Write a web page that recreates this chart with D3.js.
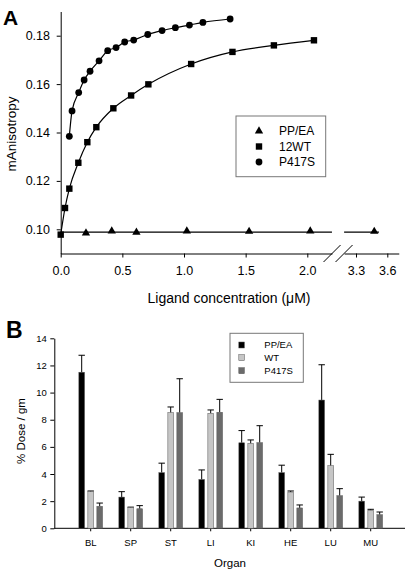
<!DOCTYPE html>
<html><head><meta charset="utf-8">
<script src="https://cdn.jsdelivr.net/npm/d3@7"></script>
<style>body{margin:0;background:#fff} svg{display:block;font-family:"Liberation Sans",Arial,sans-serif}</style>
</head><body><svg width="407" height="571"></svg>
<script>
// ---------- Panel A data ----------
const ppeaX = [0.205, 0.414, 0.614, 1.023, 1.528, 2.024, 3.475];
const ppeaY = [0.0982, 0.0991, 0.0985, 0.0991, 0.0989, 0.0991, 0.0989];
const ppeaLineEnds = [[0, 2.2], [3.186, 3.52]];
const wtX = [0, 0.035, 0.07, 0.143, 0.216, 0.289, 0.427, 0.571, 0.711, 1.058, 1.393, 1.729, 2.054];
const wtY = [0.0978, 0.1088, 0.1168, 0.1275, 0.1360, 0.1422, 0.1500, 0.1553, 0.1599, 0.1683, 0.1733, 0.1760, 0.1781];
const p417X = [0.07, 0.092, 0.146, 0.19, 0.238, 0.311, 0.381, 0.449, 0.519, 0.592, 0.706, 0.822, 0.930, 1.044, 1.153, 1.374];
const p417Y = [0.1384, 0.1489, 0.1565, 0.1617, 0.1653, 0.1696, 0.1738, 0.1751, 0.1774, 0.1782, 0.1805, 0.1821, 0.1833, 0.1844, 0.1855, 0.1869];
const xTicksA1 = [0, 0.5, 1.0, 1.5, 2.0];
const xTicksA2 = [3.3, 3.6];
const yTicksA = [0.10, 0.12, 0.14, 0.16, 0.18];
const legendA = ["PP/EA", "12WT", "P417S"];

// ---------- Panel B data ----------
const organs = ["BL", "SP", "ST", "LI", "KI", "HE", "LU", "MU"];
const groups = ["PP/EA", "WT", "P417S"];
const ppeaDose = [11.5, 2.3, 4.1, 3.6, 6.3, 4.1, 9.45, 2.0];
const ppeaSD   = [1.25, 0.4, 0.7, 0.7, 0.9, 0.55, 2.6, 0.3];
const wtDose   = [2.7, 1.52, 8.52, 8.47, 6.25, 2.67, 4.61, 1.33];
const wtSD     = [0.05, 0.04, 0.42, 0.25, 0.26, 0.08, 0.84, 0.07];
const p417Dose = [1.62, 1.44, 8.52, 8.55, 6.31, 1.5, 2.4, 1.0];
const p417SD   = [0.24, 0.23, 2.5, 0.95, 1.25, 0.22, 0.52, 0.2];
const yTicksB = [0, 2, 4, 6, 8, 10, 12, 14];
const barColors = ["#000000", "#c6c6c6", "#6b6b6b"];

const svg = d3.select("svg");

// ================= Panel A =================
const xA1 = d3.scaleLinear().domain([0, 2.2]).range([60.7, 60.7 + 2.2 * 123.3]);
const xA2base = d3.scaleLinear().domain([3.3, 3.6]).range([356, 387.3]);
const xA2 = xA2base.copy().domain([3.186, 3.71]).range([xA2base(3.186), xA2base(3.71)]);
const xA = v => v <= 2.5 ? xA1(v) : xA2(v);
const yA = d3.scaleLinear().domain([0.09, 0.19]).range([253.5, 11.5]);
const axisYA = yA.range()[0];

const gA = svg.append("g");
const yAxA = gA.append("g").attr("transform", `translate(${xA1.range()[0]},0)`)
  .call(d3.axisLeft(yA).tickValues(yTicksA).tickFormat(d3.format(".2f")).tickSize(4).tickSizeOuter(0).tickPadding(6.7));
const xAxA1 = gA.append("g").attr("transform", `translate(0,${axisYA})`)
  .call(d3.axisBottom(xA1).tickValues(xTicksA1).tickFormat(d3.format(".1f")).tickSize(4).tickSizeOuter(0).tickPadding(8.6));
const xAxA2 = gA.append("g").attr("transform", `translate(0,${axisYA})`)
  .call(d3.axisBottom(xA2).tickValues(xTicksA2).tickFormat(d3.format(".1f")).tickSize(4).tickSizeOuter(0).tickPadding(8.6));
[yAxA, xAxA1, xAxA2].forEach(a => {
  a.selectAll("text").attr("font-size", 12.5).attr("fill", "#000").attr("font-family", "Liberation Sans, Arial, sans-serif");
  a.selectAll("line,path").attr("stroke", "#000");
});
// break marks
const brkC = (xA1.range()[1] + xA2.range()[0]) / 2;
[-6, 6].forEach(o => {
  gA.append("line").attr("x1", brkC + o - 8.5).attr("y1", axisYA + 8.5)
    .attr("x2", brkC + o + 8.5).attr("y2", axisYA - 8.5).attr("stroke", "#000").attr("stroke-width", 1);
});

// PP/EA flat line (mean)
const ppeaMean = d3.mean(ppeaY);
ppeaLineEnds.forEach(([a, b]) => {
  gA.append("line").attr("x1", xA(a)).attr("x2", xA(b)).attr("y1", yA(ppeaMean)).attr("y2", yA(ppeaMean))
    .attr("stroke", "#000").attr("stroke-width", 1.2);
});
const lineA = d3.line().x(d => xA(d[0])).y(d => yA(d[1])).curve(d3.curveMonotoneX);
const wtPts = wtX.map((x, i) => [x, wtY[i]]);
const p417Pts = p417X.map((x, i) => [x, p417Y[i]]);
gA.append("path").attr("d", lineA(wtPts)).attr("fill", "none").attr("stroke", "#000").attr("stroke-width", 1.2);
gA.append("path").attr("d", lineA(p417Pts)).attr("fill", "none").attr("stroke", "#000").attr("stroke-width", 1.2);

const triSym = d3.symbol(d3.symbolTriangle, 30);
gA.selectAll(".tri").data(ppeaX.map((x, i) => [x, ppeaY[i]])).join("path")
  .attr("d", triSym).attr("transform", d => `translate(${xA(d[0])},${yA(d[1]) - 0.5})`).attr("fill", "#000");
const sq = 6.4;
gA.selectAll(".sq").data(wtPts).join("rect")
  .attr("x", d => xA(d[0]) - sq / 2).attr("y", d => yA(d[1]) - sq / 2).attr("width", sq).attr("height", sq).attr("fill", "#000");
gA.selectAll(".ci").data(p417Pts).join("circle")
  .attr("cx", d => xA(d[0])).attr("cy", d => yA(d[1])).attr("r", 3.4).attr("fill", "#000");

// titles
gA.append("text").attr("x", 229).attr("y", 303).attr("text-anchor", "middle").attr("font-size", 14)
  .text("Ligand concentration (\u03bcM)");
gA.append("text").attr("transform", "translate(16,134) rotate(-90)").attr("text-anchor", "middle").attr("font-size", 13.5)
  .text("mAnisotropy");
gA.append("text").attr("x", 3).attr("y", 25).attr("font-size", 21).attr("font-weight", "bold").text("A");

// legend A
const lgA = gA.append("g");
lgA.append("rect").attr("x", 236).attr("y", 116).attr("width", 89.7).attr("height", 60.7)
  .attr("fill", "#fff").attr("stroke", "#777").attr("stroke-width", 1);
const lgRowsA = [131, 146.5, 162];
legendA.forEach((name, i) => {
  const cy = lgRowsA[i];
  if (i === 0) lgA.append("path").attr("d", triSym).attr("transform", `translate(259,${cy})`).attr("fill", "#000");
  if (i === 1) lgA.append("rect").attr("x", 259 - sq / 2).attr("y", cy - sq / 2).attr("width", sq).attr("height", sq).attr("fill", "#000");
  if (i === 2) lgA.append("circle").attr("cx", 259).attr("cy", cy).attr("r", 3.4).attr("fill", "#000");
  lgA.append("text").attr("x", 279).attr("y", cy).attr("dy", "0.36em").attr("font-size", 12).text(name);
});

// ================= Panel B =================
const xB = d3.scaleBand().domain(organs).range([70.7, 390.7]).padding(0);
const sub = d3.scaleBand().domain(groups).range([-11.85, 11.85]).paddingInner(0.367);
const yB = d3.scaleLinear().domain([0, 14]).range([528.3, 338.3]);
const axisXB = 54.3;
const gB = svg.append("g");
const yAxB = gB.append("g").attr("transform", `translate(${axisXB},0)`)
  .call(d3.axisLeft(yB).tickValues(yTicksB).tickSize(4).tickSizeOuter(0).tickPadding(3.6));
const xAxB = gB.append("g").attr("transform", `translate(0,${yB(0)})`)
  .call(d3.axisBottom(xB).tickSize(3).tickSizeOuter(0).tickPadding(8));
xAxB.select(".domain").remove();
gB.append("line").attr("x1", axisXB).attr("x2", 405).attr("y1", yB(0)).attr("y2", yB(0)).attr("stroke", "#000");
[yAxB, xAxB].forEach(a => {
  a.selectAll("text").attr("font-size", 9.5).attr("fill", "#000").attr("font-family", "Liberation Sans, Arial, sans-serif");
  a.selectAll("line,path").attr("stroke", "#000");
});

const series = [
  { g: groups[0], v: ppeaDose, e: ppeaSD, c: barColors[0] },
  { g: groups[1], v: wtDose, e: wtSD, c: barColors[1] },
  { g: groups[2], v: p417Dose, e: p417SD, c: barColors[2] }
];
series.forEach(s => {
  organs.forEach((o, i) => {
    const cx = xB(o) + xB.bandwidth() / 2 + sub(s.g) + sub.bandwidth() / 2;
    const x0 = xB(o) + xB.bandwidth() / 2 + sub(s.g);
    const top = yB(s.v[i]), etop = yB(s.v[i] + s.e[i]);
    gB.append("line").attr("x1", cx).attr("x2", cx).attr("y1", top).attr("y2", etop).attr("stroke", "#000").attr("stroke-width", 1);
    gB.append("line").attr("x1", cx - 3.2).attr("x2", cx + 3.2).attr("y1", etop).attr("y2", etop).attr("stroke", "#000").attr("stroke-width", 1);
    gB.append("rect").attr("x", x0).attr("y", top).attr("width", sub.bandwidth()).attr("height", yB(0) - top)
      .attr("fill", s.c).attr("stroke", "#555").attr("stroke-width", 0.5);
  });
});

gB.append("text").attr("x", 230).attr("y", 567).attr("text-anchor", "middle").attr("font-size", 11.5).text("Organ");
gB.append("text").attr("transform", "translate(25,431) rotate(-90)").attr("text-anchor", "middle").attr("font-size", 11.5)
  .text("% Dose / gm");
gB.append("text").attr("x", 6).attr("y", 338).attr("font-size", 23).attr("font-weight", "bold").text("B");

// legend B
const lgB = gB.append("g");
lgB.append("rect").attr("x", 230).attr("y", 333.3).attr("width", 73.3).attr("height", 49)
  .attr("fill", "#fff").attr("stroke", "#777").attr("stroke-width", 1);
const lgRowsB = [345, 357.7, 370.7];
series.forEach((s, i) => {
  lgB.append("rect").attr("x", 238.8).attr("y", lgRowsB[i] - 3).attr("width", 5.6).attr("height", 6)
    .attr("fill", s.c).attr("stroke", "#555").attr("stroke-width", 0.5);
  lgB.append("text").attr("x", 264.3).attr("y", lgRowsB[i]).attr("dy", "0.36em").attr("font-size", 9.5).text(s.g);
});
</script>
</body></html>
